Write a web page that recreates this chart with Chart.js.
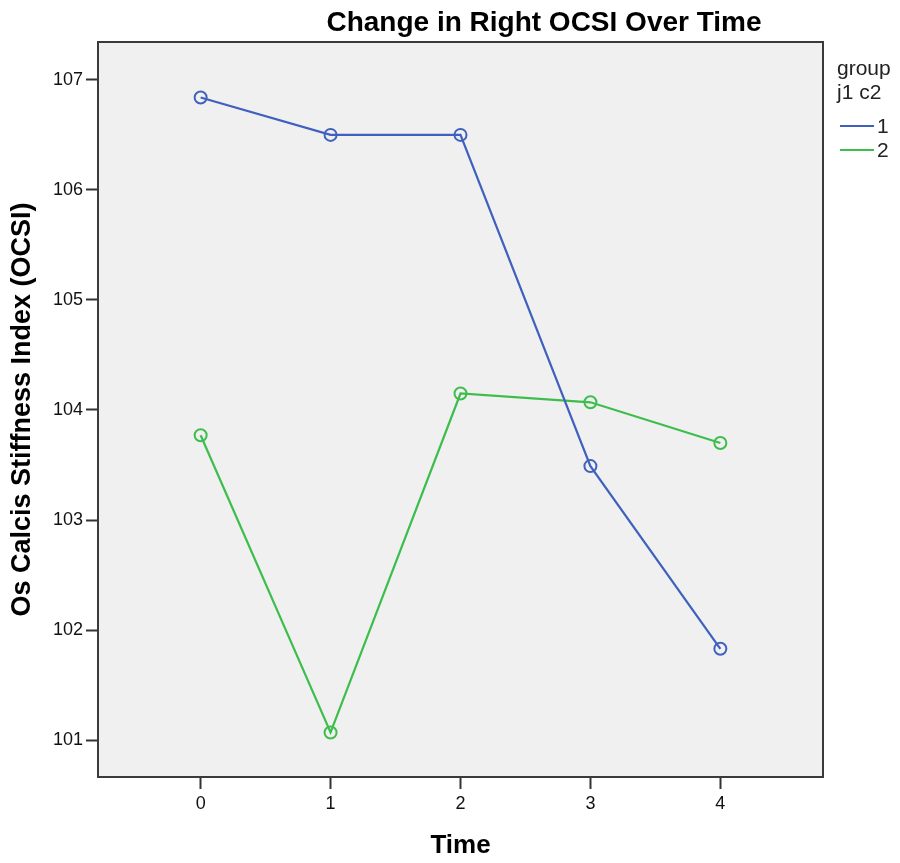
<!DOCTYPE html>
<html>
<head>
<meta charset="utf-8">
<script src="https://cdn.jsdelivr.net/npm/chart.js@4.4.1/dist/chart.umd.min.js"></script>
<style>
  html, body { margin: 0; padding: 0; background: #ffffff; }
  #wrap { width: 900px; height: 863px; position: relative; }
</style>
</head>
<body>
<div id="wrap"><canvas id="c" width="900" height="863"></canvas></div>
<script>
const chartTitle = "Change in Right OCSI Over Time";
const xTitle = "Time";
const yTitle = "Os Calcis Stiffness Index (OCSI)";
const legendTitle = ["group", "j1 c2"];
const times = [0, 1, 2, 3, 4];
const seriesNames = ["1", "2"];
const group1 = [106.84, 106.50, 106.50, 103.49, 101.83];
const group2 = [103.77, 101.07, 104.15, 104.07, 103.70];
const xTicks = [0, 1, 2, 3, 4];
const yTicks = [101, 102, 103, 104, 105, 106, 107];
const colors = ["#4060BE", "#3DBE4C"];

const FONT = "'Liberation Sans', Arial, sans-serif";

const framePlugin = {
  id: 'frame',
  beforeDraw(chart) {
    const {ctx, chartArea: a} = chart;
    ctx.save();
    ctx.fillStyle = '#f0f0f0';
    ctx.fillRect(a.left, a.top, a.right - a.left, a.bottom - a.top);
    ctx.restore();
  },
  afterDraw(chart) {
    const {ctx, chartArea: a} = chart;
    ctx.save();
    ctx.strokeStyle = '#3a3a3a';
    ctx.lineWidth = 2;
    ctx.strokeRect(a.left, a.top, a.right - a.left, a.bottom - a.top);
    // chart title
    ctx.fillStyle = '#000';
    ctx.font = "bold 28px " + FONT;
    ctx.textAlign = 'center';
    ctx.textBaseline = 'middle';
    ctx.fillText(chartTitle, 544, 23);
    // legend
    ctx.font = "21px " + FONT;
    ctx.textAlign = 'left';
    ctx.fillStyle = '#222';
    ctx.fillText(legendTitle[0], 837, 69);
    ctx.fillText(legendTitle[1], 837, 93);
    chart.data.datasets.forEach((ds, i) => {
      const y = 126 + i * 24;
      ctx.strokeStyle = ds.borderColor;
      ctx.lineWidth = 2.2;
      ctx.beginPath();
      ctx.moveTo(840, y);
      ctx.lineTo(874, y);
      ctx.stroke();
      ctx.fillStyle = '#222';
      ctx.fillText(ds.label, 877, y + 1);
    });
    ctx.restore();
  }
};

const toPts = arr => times.map((t, i) => ({x: t, y: arr[i]}));

new Chart(document.getElementById('c'), {
  type: 'line',
  data: {
    datasets: [
      {label: seriesNames[0], data: toPts(group1), borderColor: colors[0], backgroundColor: 'rgba(0,0,0,0)',
       pointBorderColor: colors[0], pointBackgroundColor: 'rgba(0,0,0,0)', pointRadius: 6, pointBorderWidth: 2,
       borderWidth: 2.2, tension: 0},
      {label: seriesNames[1], data: toPts(group2), borderColor: colors[1], backgroundColor: 'rgba(0,0,0,0)',
       pointBorderColor: colors[1], pointBackgroundColor: 'rgba(0,0,0,0)', pointRadius: 6, pointBorderWidth: 2,
       borderWidth: 2.2, tension: 0}
    ]
  },
  options: {
    responsive: false,
    animation: false,
    devicePixelRatio: 1,
    layout: {padding: {left: 0, right: 77, top: 42, bottom: 0}},
    plugins: {legend: {display: false}, title: {display: false}, tooltip: {enabled: false}},
    scales: {
      x: {
        type: 'linear', min: -0.79, max: 4.79,
        afterBuildTicks: s => { s.ticks = xTicks.map(v => ({value: v})); },
        afterFit: s => { s.height = 86; },
        grid: {drawOnChartArea: false, drawTicks: true, tickLength: 12, tickColor: '#333', tickWidth: 2},
        border: {display: false},
        ticks: {color: '#111', font: {size: 18, family: FONT}, padding: 4, maxRotation: 0},
        title: {display: true, text: xTitle, color: '#000', font: {size: 26, weight: 'bold', family: FONT}, padding: {top: 0, bottom: 2}}
      },
      y: {
        type: 'linear', min: 100.665, max: 107.344,
        afterBuildTicks: s => { s.ticks = yTicks.map(v => ({value: v})); },
        afterFit: s => { s.width = 98; },
        grid: {drawOnChartArea: false, drawTicks: true, tickLength: 12, tickColor: '#333', tickWidth: 2},
        border: {display: false},
        ticks: {color: '#111', font: {size: 18, family: FONT}, padding: 3},
        title: {display: true, text: yTitle, color: '#000', font: {size: 27, weight: 'bold', family: FONT}, padding: {top: 6, bottom: 0}}
      }
    }
  },
  plugins: [framePlugin]
});
</script>
</body>
</html>
